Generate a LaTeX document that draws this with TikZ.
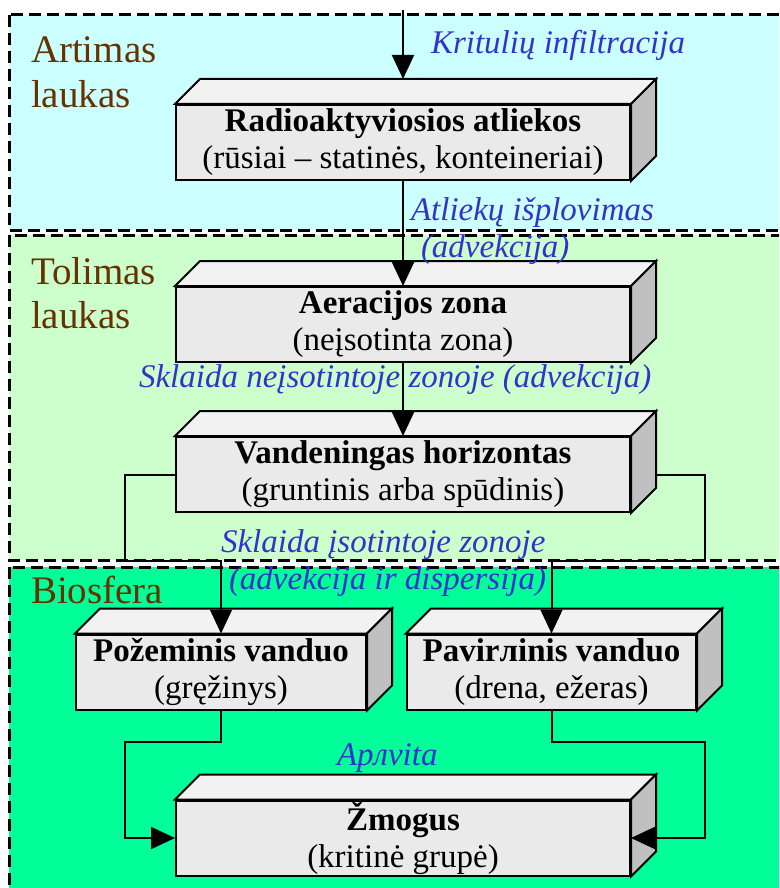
\documentclass[tikz,border=0pt]{standalone}
\usepackage{fontspec}
\setmainfont{Liberation Serif}
\usetikzlibrary{arrows.meta,calc}

\definecolor{nearfield}{HTML}{CCFFFF}
\definecolor{farfield}{HTML}{CCFFCC}
\definecolor{biosphere}{HTML}{00FF99}
\definecolor{zonebrown}{HTML}{663300}
\definecolor{pathblue}{HTML}{3333CC}
\definecolor{frontgray}{HTML}{EAEAEA}
\definecolor{topgray}{HTML}{F2F2F2}
\definecolor{sidegray}{HTML}{C0C0C0}

% top and right faces of a block node
\newcommand{\blockdepth}[1]{%
  \filldraw[fill=topgray] (#1.north west) -- ++(25,-25) -- ($(#1.north east)+(25,-25)$) -- (#1.north east) -- cycle;
  \filldraw[fill=sidegray] (#1.north east) -- ++(25,-25) -- ($(#1.south east)+(25,-25)$) -- (#1.south east) -- cycle;}

\begin{document}
\begin{tikzpicture}[x=1pt,y=-1pt,line width=2pt,
  stage/.style={draw,fill=frontgray,minimum height=75pt,inner sep=0pt,align=center,
    font=\fontsize{33}{37}\selectfont},
  flow/.style={-{Triangle[width=22pt,length=24pt]}},
  path label/.style={text=pathblue,font=\fontsize{33}{37}\selectfont\itshape,
    inner sep=0pt,anchor=west,align=left},
  zone label/.style={text=zonebrown,font=\fontsize{39}{44}\selectfont,
    inner sep=0pt,anchor=base west,align=left},
  zone/.style={dash pattern=on 12pt off 6pt,line width=3pt}]
  \useasboundingbox (0,0) rectangle (779,888);
  \clip (0,0) rectangle (779,888);

  % zones
  \filldraw[zone,fill=nearfield] (9,15) rectangle (800,230);
  \filldraw[zone,fill=farfield] (9,235) rectangle (800,560);
  \filldraw[zone,fill=biosphere] (9,567) rectangle (800,900);
  \node[zone label] (near) at (30,107) {Artimas\\laukas};
  \node[zone label] (far) at (30,328) {Tolimas\\laukas};
  \node[zone label] (bio) at (30,603) {Biosfera};

  % blocks
  \node[stage,minimum width=454pt] (waste) at (403,142.5)
    {\textbf{Radioaktyviosios atliekos}\\(rūsiai – statinės, konteineriai)};
  \node[stage,minimum width=454pt] (vadose) at (403,324.5)
    {\textbf{Aeracijos zona}\\(neįsotinta zona)};
  \node[stage,minimum width=454pt] (aquifer) at (403,474.5)
    {\textbf{Vandeningas horizontas}\\(gruntinis arba spūdinis)};
  \node[stage,minimum width=290pt] (ground) at (221,672)
    {\textbf{Požeminis vanduo}\\(gręžinys)};
  \node[stage,minimum width=289pt] (surface) at (551.5,672)
    {\textbf{Pavirлinis vanduo}\\(drena, ežeras)};
  \node[stage,minimum width=454pt] (human) at (403,838)
    {\textbf{Žmogus}\\(kritinė grupė)};
  \blockdepth{waste}
  \blockdepth{vadose}
  \blockdepth{aquifer}
  \blockdepth{ground}
  \blockdepth{surface}
  \blockdepth{human}

  % pathways
  \coordinate (rain) at (403,10);
  \coordinate (aqleft) at (125,561);
  \coordinate (aqright) at (705,561);
  \coordinate (gleft) at (125,742);
  \coordinate (sright) at (705,742);
  \draw[flow] (rain) -- ($(waste.north)+(0,-25)$);
  \draw[flow] (waste.south) -- (vadose.north);
  \draw[flow] (vadose.south) -- (aquifer.north);
  \draw[flow] (aquifer.west) -| (aqleft) -| (ground.north);
  \draw[flow] ($(aquifer.east)+(25,0)$) -| (aqright) -| (surface.north);
  \draw[flow] (ground.south) |- (gleft) |- (human.west);
  \draw[flow] (surface.south) |- (sright) |- (human.east);

  \node[path label] (infil) at (430,45) {Kritulių infiltracija};
  \node[path label] (leach) at (410,231) {Atliekų išplovimas\\\hspace*{10pt}(advekcija)};
  \node[path label] (unsat) at (138,380) {Sklaida neįsotintoje zonoje (advekcija)};
  \node[path label] (sat) at (220,563) {Sklaida įsotintoje zonoje\\\hspace*{8pt}(advekcija ir dispersija)};
  \node[path label] (dose) at (336,758) {Apлvita};
\end{tikzpicture}
\end{document}
